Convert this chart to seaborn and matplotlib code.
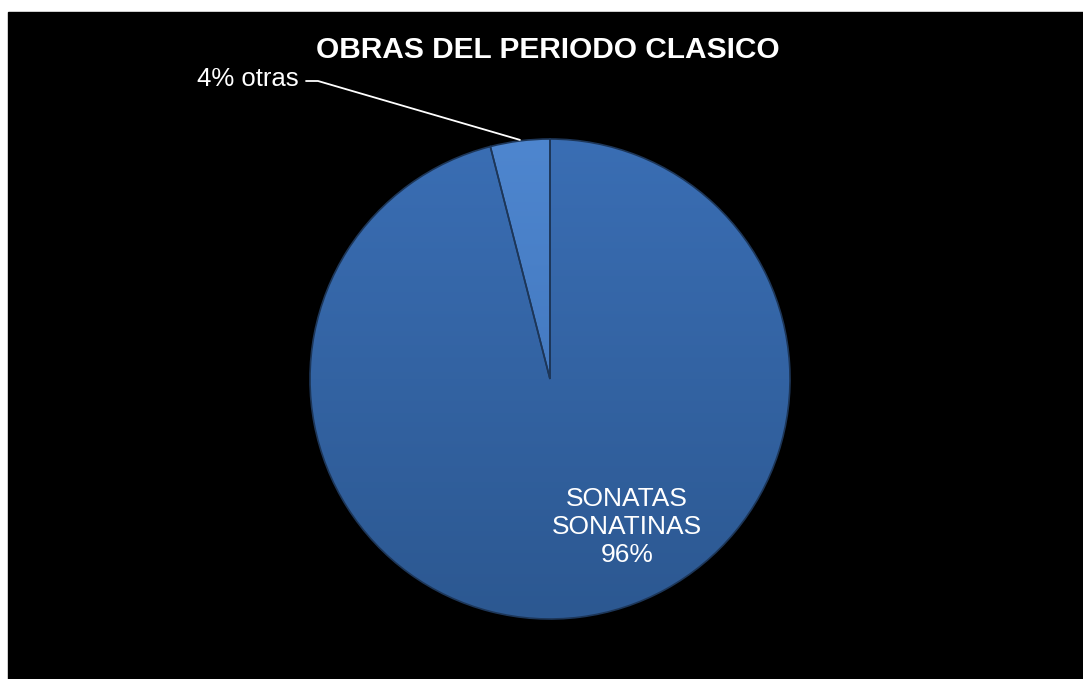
import numpy as np
import matplotlib
matplotlib.use("Agg")
import matplotlib.pyplot as plt
from matplotlib.colors import LinearSegmentedColormap
from matplotlib.patches import Wedge
import seaborn as sns

# Data
categories = ["otras", "SONATAS\nSONATINAS"]
values = [4, 96]
title_text = "OBRAS DEL PERIODO CLASICO"

sns.set_theme(style="white")
plt.rcParams["font.family"] = ["Liberation Sans", "DejaVu Sans"]

W, H = 1083, 679
fig = plt.figure(figsize=(W / 100, H / 100), dpi=100)
fig.patch.set_facecolor("white")

ax = fig.add_axes([0, 0, 1, 1])

# black chart area inside thin white border (left/top)
ax.add_patch(plt.Rectangle((8, 0), W - 8, H - 12, color="black", zorder=0))

cx, cy, r = 550, H - 379, 240

wedges, _ = ax.pie(
    values,
    startangle=90,
    counterclock=True,
    radius=r,
    center=(cx, cy),
    colors=["#4478C0", "#3466A8"],
    wedgeprops=dict(edgecolor="none"),
    frame=True,
)
ax.set_xlim(0, W)
ax.set_ylim(0, H)
ax.set_aspect("equal")
ax.axis("off")

# vertical gradient shading clipped to each slice
grads = [("#4E86CF", "#3B6FB4"), ("#3A6EB4", "#2C5891")]
grad = np.linspace(0, 1, 256).reshape(-1, 1)
for w, (c_top, c_bot) in zip(wedges, grads):
    cmap = LinearSegmentedColormap.from_list("g", [c_top, c_bot])
    im = ax.imshow(grad, cmap=cmap, aspect="auto",
                   extent=(cx - r, cx + r, cy - r, cy + r),
                   origin="upper", zorder=2)
    im.set_clip_path(w)
    w.set_zorder(1)
    ax.add_patch(Wedge((cx, cy), r, w.theta1, w.theta2, facecolor="none",
                       edgecolor="#1d3658", linewidth=1.2, zorder=3))

ax.set_xlim(0, W)
ax.set_ylim(0, H)

# title
ax.text(548, H - 50, title_text, color="white", fontsize=21.5,
        fontweight="bold", ha="center", va="center")

# small slice label with leader line
share_small = values[0] / sum(values)
ax.text(299, H - 79, f"{values[0]}% {categories[0]}", color="white",
        fontsize=18.5, ha="right", va="center")
ang = np.deg2rad(90 + 360 * share_small / 2)
px, py = cx + r * np.cos(ang), cy + r * np.sin(ang)
ax.plot([306, 318, px], [H - 81, H - 81, py + 1], color="white",
        linewidth=1.3, zorder=4)

# large slice label
ax.text(627, H - 527, f"{categories[1]}\n{values[1]}%", color="white",
        fontsize=19, ha="center", va="center", linespacing=1.2, zorder=5)

fig.savefig("out.png", dpi=100, facecolor=fig.get_facecolor())
